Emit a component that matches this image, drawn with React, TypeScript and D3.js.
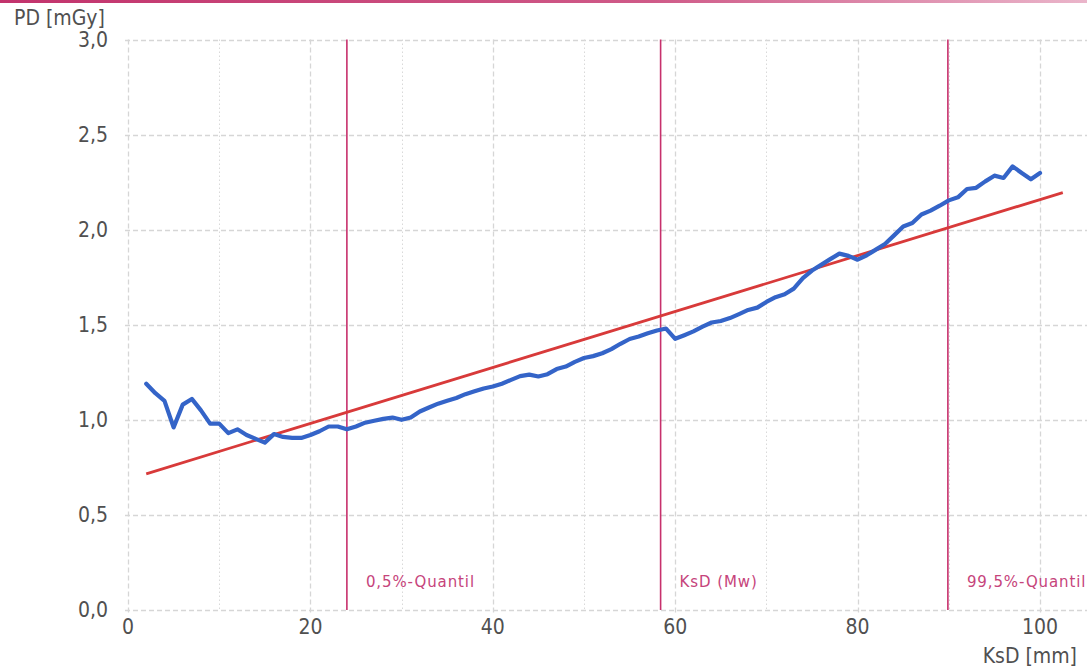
import React, { useEffect, useRef } from "react";
import * as d3 from "d3";

const W = 1087;
const H = 672;

const xTicks = [0, 20, 40, 60, 80, 100];
const xMinorTicks = [10, 30, 50, 70, 90];
const yTicks = [0, 0.5, 1.0, 1.5, 2.0, 2.5, 3.0];

const ksd = [
  2, 3, 4, 5, 6, 7, 8, 9, 10, 11, 12, 13, 14, 15, 16, 17, 18, 19, 20, 21, 22, 23, 24, 25, 26,
  27, 28, 29, 30, 31, 32, 33, 34, 35, 36, 37, 38, 39, 40, 41, 42, 43, 44, 45, 46, 47, 48, 49,
  50, 51, 52, 53, 54, 55, 56, 57, 58, 59, 60, 61, 62, 63, 64, 65, 66, 67, 68, 69, 70, 71, 72,
  73, 74, 75, 76, 77, 78, 79, 80, 81, 82, 83, 84, 85, 86, 87, 88, 89, 90, 91, 92, 93, 94, 95,
  96, 97, 98, 99, 100,
];
const pd = [
  1.19, 1.14, 1.1, 0.96, 1.08, 1.11, 1.05, 0.98, 0.98, 0.93, 0.95, 0.92, 0.9, 0.88, 0.925, 0.91,
  0.905, 0.905, 0.92, 0.94, 0.965, 0.965, 0.95, 0.965, 0.985, 0.995, 1.005, 1.012, 1.0, 1.012,
  1.044, 1.065, 1.085, 1.1, 1.115, 1.135, 1.15, 1.165, 1.175, 1.19, 1.21, 1.23, 1.238, 1.228,
  1.24, 1.267, 1.28, 1.305, 1.325, 1.335, 1.35, 1.372, 1.4, 1.425, 1.438, 1.455, 1.47, 1.48,
  1.426, 1.445, 1.465, 1.49, 1.512, 1.52, 1.535, 1.556, 1.578, 1.59, 1.62, 1.645, 1.66, 1.69,
  1.745, 1.785, 1.815, 1.845, 1.874, 1.862, 1.842, 1.865, 1.895, 1.925, 1.97, 2.017, 2.035,
  2.08, 2.1, 2.126, 2.154, 2.17, 2.214, 2.22, 2.254, 2.284, 2.272, 2.333, 2.298, 2.265, 2.298,
];

const fitX = [2, 102.5];
const fitY = [0.716, 2.195];

const markerNames = ["0,5%-Quantil", "KsD (Mw)", "99,5%-Quantil"];
const markerX = [24.0, 58.4, 89.9];

const fmt = (v: number) => d3.format(".1f")(v).replace(".", ",");

export default function App() {
  const ref = useRef<SVGSVGElement | null>(null);

  useEffect(() => {
    document.body.style.margin = "0";
    const svg = d3.select(ref.current);
    svg.selectAll("*").remove();

    const x = d3.scaleLinear().domain([0, 100]).range([128, 1040]);
    const y = d3.scaleLinear().domain([0, 3]).range([610, 39.5]);
    const left = x(0);
    const right = W;
    const top = y(3);
    const bottom = y(0);

    const defs = svg.append("defs");
    const grad = defs
      .append("linearGradient")
      .attr("id", "topbar")
      .attr("x1", "0%")
      .attr("x2", "100%");
    grad.append("stop").attr("offset", "0%").attr("stop-color", "#c2336c");
    grad.append("stop").attr("offset", "60%").attr("stop-color", "#cf5a88");
    grad.append("stop").attr("offset", "100%").attr("stop-color", "#eab5ca");

    svg.append("rect").attr("x", 0).attr("y", 0).attr("width", W).attr("height", 3).attr("fill", "url(#topbar)");

    const grid = svg.append("g");
    grid
      .selectAll("line.h")
      .data(yTicks)
      .join("line")
      .attr("x1", left - 3)
      .attr("x2", right)
      .attr("y1", (d) => Math.round(y(d)) + 0.5)
      .attr("y2", (d) => Math.round(y(d)) + 0.5)
      .attr("stroke", "#d6d6d6")
      .attr("stroke-width", 1.3)
      .attr("stroke-dasharray", "5,3");
    grid
      .selectAll("line.v")
      .data(xTicks)
      .join("line")
      .attr("x1", (d) => Math.round(x(d)) + 0.5)
      .attr("x2", (d) => Math.round(x(d)) + 0.5)
      .attr("y1", top)
      .attr("y2", bottom + 4)
      .attr("stroke", "#d6d6d6")
      .attr("stroke-width", 1.3)
      .attr("stroke-dasharray", "5,3");
    grid
      .selectAll("line.vm")
      .data(xMinorTicks)
      .join("line")
      .attr("x1", (d) => Math.round(x(d)) + 0.5)
      .attr("x2", (d) => Math.round(x(d)) + 0.5)
      .attr("y1", top)
      .attr("y2", bottom)
      .attr("stroke", "#d9d9d9")
      .attr("stroke-width", 1)
      .attr("stroke-dasharray", "1.5,2.5");

    const tickFont = "'Liberation Sans Narrow', 'DejaVu Sans Condensed', 'Liberation Sans', sans-serif";
    svg
      .append("g")
      .selectAll("text")
      .data(yTicks)
      .join("text")
      .attr("x", 108)
      .attr("y", (d) => y(d) + 7)
      .attr("text-anchor", "end")
      .attr("font-family", tickFont)
      .attr("font-size", 21)
      .attr("fill", "#505050")
      .text((d) => fmt(d));
    svg
      .append("g")
      .selectAll("text")
      .data(xTicks)
      .join("text")
      .attr("x", (d) => x(d))
      .attr("y", 634)
      .attr("text-anchor", "middle")
      .attr("font-family", tickFont)
      .attr("font-size", 21)
      .attr("fill", "#505050")
      .text((d) => String(d));

    svg
      .append("text")
      .attr("x", 14)
      .attr("y", 25)
      .attr("font-family", tickFont)
      .attr("font-size", 21)
      .attr("fill", "#505050")
      .text("PD [mGy]");
    svg
      .append("text")
      .attr("x", 1077)
      .attr("y", 663)
      .attr("text-anchor", "end")
      .attr("font-family", tickFont)
      .attr("font-size", 21)
      .attr("fill", "#505050")
      .text("KsD [mm]");

    const mk = svg.append("g");
    mk.selectAll("line")
      .data(markerX)
      .join("line")
      .attr("x1", (d) => x(d))
      .attr("x2", (d) => x(d))
      .attr("y1", top)
      .attr("y2", bottom)
      .attr("stroke", "#c7306c")
      .attr("stroke-width", 1.6);
    mk.selectAll("text")
      .data(markerX)
      .join("text")
      .attr("x", (d) => x(d) + 19)
      .attr("y", 587)
      .attr("font-family", "'DejaVu Sans', sans-serif")
      .attr("font-size", 15)
      .attr("letter-spacing", 0.9)
      .attr("fill", "#c6447b")
      .text((d, i) => markerNames[i]);

    const fit = fitX.map((v, i) => [v, fitY[i]] as [number, number]);
    svg
      .append("path")
      .datum(fit)
      .attr("d", d3.line<[number, number]>().x((d) => x(d[0])).y((d) => y(d[1])))
      .attr("fill", "none")
      .attr("stroke", "#d83a3a")
      .attr("stroke-width", 2.8);

    const pts = ksd.map((v, i) => [v, pd[i]] as [number, number]);
    svg
      .append("path")
      .datum(pts)
      .attr("d", d3.line<[number, number]>().x((d) => x(d[0])).y((d) => y(d[1])))
      .attr("fill", "none")
      .attr("stroke", "#3464c8")
      .attr("stroke-width", 4.2)
      .attr("stroke-linejoin", "round")
      .attr("stroke-linecap", "round");
  }, []);

  return (
    <svg
      ref={ref}
      width={W}
      height={H}
      style={{ position: "absolute", left: 0, top: 0, display: "block", background: "#fff" }}
    />
  );
}
